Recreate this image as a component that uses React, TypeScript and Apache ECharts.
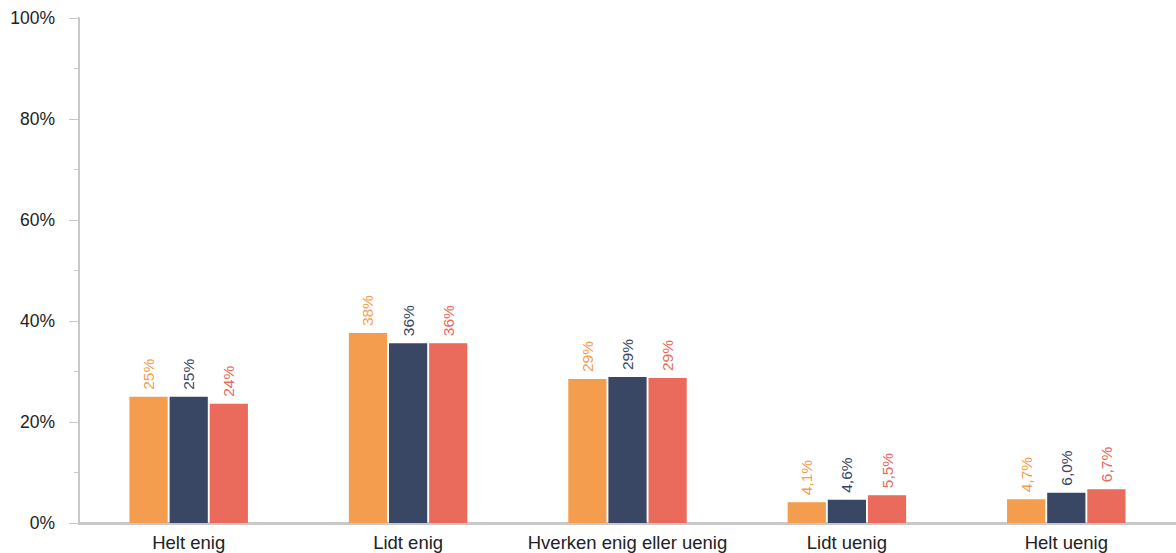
import React, { useEffect, useRef } from "react";
import * as echarts from "echarts";

const categories = ["Helt enig", "Lidt enig", "Hverken enig eller uenig", "Lidt uenig", "Helt uenig"];
const seriesA = [25, 37.6, 28.5, 4.1, 4.7];
const seriesB = [25, 35.6, 28.9, 4.6, 6.0];
const seriesC = [23.6, 35.6, 28.7, 5.5, 6.7];
const colors = ["#F49D4E", "#394764", "#EA6A5B"];

const fmt = (v: number) => (v >= 10 ? Math.round(v) + "%" : v.toFixed(1).replace(".", ",") + "%");
const FONT = "Liberation Sans, Arial, sans-serif";

export default function App() {
  const ref = useRef<HTMLDivElement>(null);
  useEffect(() => {
    const chart = echarts.init(ref.current!, null, { renderer: "svg" });
    const mk = (name: string, data: number[], color: string) => ({
      name,
      type: "bar",
      data,
      barGap: "5%",
      barCategoryGap: "46%",
      itemStyle: { color },
      label: {
        show: true,
        position: "top",
        rotate: 90,
        align: "left",
        verticalAlign: "middle",
        distance: 7,
        color,
        fontSize: 15.5,
        fontFamily: FONT,
        formatter: (p: any) => fmt(p.value),
      },
    });
    chart.setOption({
      animation: false,
      grid: { left: 79, right: 0, top: 18, bottom: 30, containLabel: false },
      xAxis: {
        type: "category",
        data: categories,
        axisLine: { lineStyle: { color: "#c8c8c8", width: 3 } },
        axisTick: { show: false },
        axisLabel: { color: "#222", fontSize: 18.5, margin: 10, interval: 0, fontFamily: FONT },
      },
      yAxis: {
        type: "value",
        min: 0,
        max: 100,
        interval: 20,
        axisLine: { show: true, lineStyle: { color: "#c8c8c8", width: 2 } },
        axisTick: { show: true, length: 10, lineStyle: { color: "#c8c8c8", width: 1 } },
        minorTick: { show: true, splitNumber: 2, length: 5, lineStyle: { color: "#c8c8c8" } },
        splitLine: { show: false },
        axisLabel: {
          color: "#222",
          fontSize: 17.5,
          margin: 24,
          fontFamily: FONT,
          formatter: (v: number) => v + "%",
        },
      },
      series: [mk("A", seriesA, colors[0]), mk("B", seriesB, colors[1]), mk("C", seriesC, colors[2])],
    });
    return () => chart.dispose();
  }, []);
  return <div ref={ref} style={{ width: 1176, height: 553, position: "absolute", left: 0, top: 0 }} />;
}
